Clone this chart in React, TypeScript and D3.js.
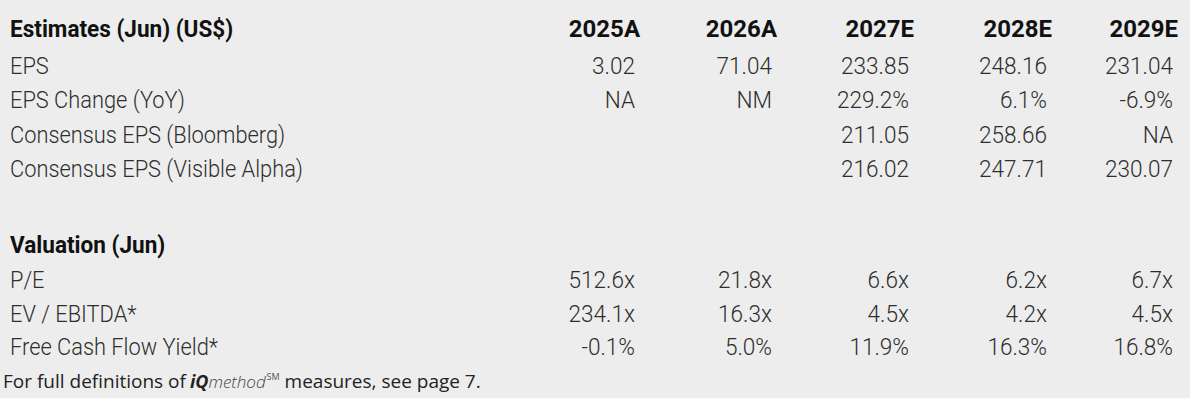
import React from "react";
import * as d3 from "d3";

const years = ["2025A", "2026A", "2027E", "2028E", "2029E"];

const estimatesTitle = "Estimates (Jun) (US$)";
const estimateLabels = [
  "EPS",
  "EPS Change (YoY)",
  "Consensus EPS (Bloomberg)",
  "Consensus EPS (Visible Alpha)",
];
const epsValues = ["3.02", "71.04", "233.85", "248.16", "231.04"];
const epsChangeValues = ["NA", "NM", "229.2%", "6.1%", "-6.9%"];
const consensusBloomberg = ["", "", "211.05", "258.66", "NA"];
const consensusVisibleAlpha = ["", "", "216.02", "247.71", "230.07"];

const valuationTitle = "Valuation (Jun)";
const valuationLabels = ["P/E", "EV / EBITDA*", "Free Cash Flow Yield*"];
const peValues = ["512.6x", "21.8x", "6.6x", "6.2x", "6.7x"];
const evEbitdaValues = ["234.1x", "16.3x", "4.5x", "4.2x", "4.5x"];
const fcfYieldValues = ["-0.1%", "5.0%", "11.9%", "16.3%", "16.8%"];

const W = 1190;
const H = 404;
const FONT = "Roboto, sans-serif";
const FOOT_FONT = "'Open Sans', 'Noto Sans', sans-serif";

type TProps = {
  x: number;
  y: number;
  sx: number;
  anchor?: "start" | "end";
  bold?: boolean;
  fill: string;
  children: React.ReactNode;
};

function T({ x, y, sx, anchor = "start", bold = false, fill, children }: TProps) {
  return (
    <text
      transform={`translate(${x},${y}) scale(${sx},1)`}
      textAnchor={anchor}
      fontWeight={bold ? 700 : 300}
      fill={fill}
    >
      {children}
    </text>
  );
}

export default function App() {
  const colX = d3.scaleOrdinal<string, number>().domain(years).range([635, 772, 909, 1047, 1173]);
  const rowY = d3.scaleLinear().domain([0, 1]).range([74, 108.3]);
  const rowY2 = d3.scaleLinear().domain([0, 1]).range([288, 321.5]);

  const section1 = [epsValues, epsChangeValues, consensusBloomberg, consensusVisibleAlpha];
  const section2 = [peValues, evEbitdaValues, fcfYieldValues];

  const body = "#2e2e2e";
  const head = "#111111";
  const fs = 24;
  const sxLabel = 0.91;
  const sxValue = 0.94;
  const sxTitle = 0.94;
  const sxYear = 1.0;

  return (
    <svg width={W} height={H} style={{ position: "absolute", left: 0, top: 0 }}>
      <rect x={0} y={0} width={W} height={398.5} fill="#ededed" />
      <rect x={0} y={398.5} width={W} height={H - 398.5} fill="#ffffff" />
      <g fontFamily={FONT} fontSize={fs}>
        <T x={10} y={37} sx={sxTitle} bold fill={head}>{estimatesTitle}</T>
        {years.map((yr) => (
          <T key={yr} x={colX(yr) + 5} y={37} sx={sxYear} anchor="end" bold fill={head}>{yr}</T>
        ))}
        {estimateLabels.map((lab, i) => (
          <T key={lab} x={10} y={rowY(i)} sx={sxLabel} fill={body}>{lab}</T>
        ))}
        {section1.map((vals, i) =>
          vals.map((v, j) => (
            <T key={`s1-${i}-${j}`} x={colX(years[j])} y={rowY(i)} sx={sxValue} anchor="end" fill={body}>{v}</T>
          ))
        )}
        <T x={10} y={253} sx={sxTitle} bold fill={head}>{valuationTitle}</T>
        {valuationLabels.map((lab, i) => (
          <T key={lab} x={10} y={rowY2(i)} sx={sxLabel} fill={body}>{lab}</T>
        ))}
        {section2.map((vals, i) =>
          vals.map((v, j) => (
            <T key={`s2-${i}-${j}`} x={colX(years[j])} y={rowY2(i)} sx={sxValue} anchor="end" fill={body}>{v}</T>
          ))
        )}
      </g>
      <text x={3} y={388} fontFamily={FOOT_FONT} fontSize={19} fill="#222">
        <tspan>For full definitions of</tspan>
        <tspan dx={4} fontStyle="italic" fontWeight="bold" fontSize={18}>iQ</tspan>
        <tspan fontStyle="italic" fill="#444" fontSize={17} fontWeight={300}>method</tspan>
        <tspan fontSize={9} dy={-8} dx={1} fill="#555">SM</tspan>
        <tspan dy={8}> measures, see page 7.</tspan>
      </text>
    </svg>
  );
}
